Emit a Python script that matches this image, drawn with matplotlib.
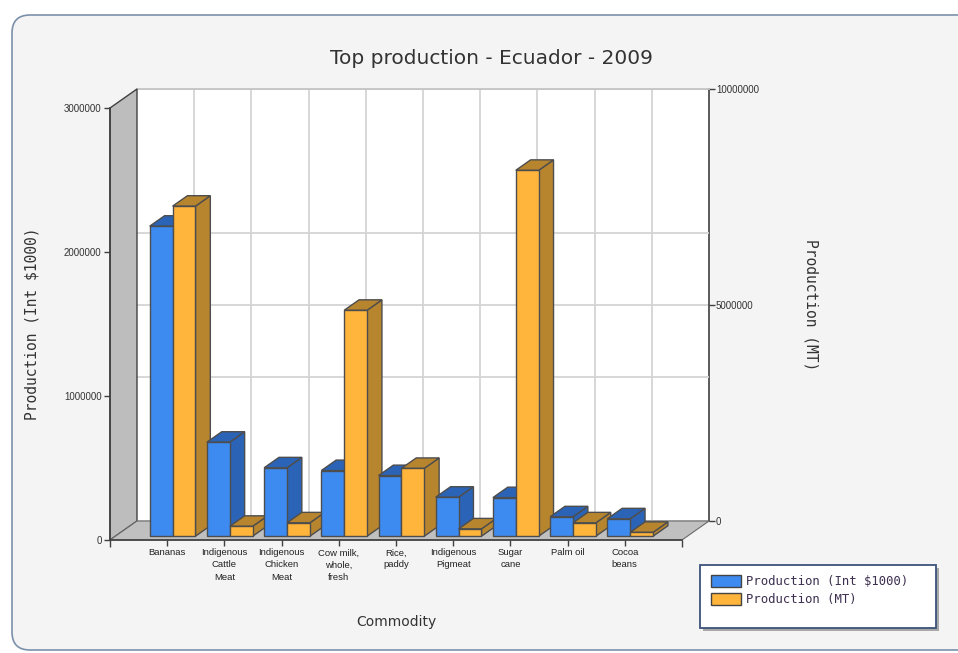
import matplotlib.pyplot as plt
from matplotlib.patches import Polygon, Rectangle, FancyBboxPatch, Patch

commodities = ["Bananas", "Indigenous\nCattle\nMeat", "Indigenous\nChicken\nMeat",
               "Cow milk,\nwhole,\nfresh", "Rice,\npaddy", "Indigenous\nPigmeat",
               "Sugar\ncane", "Palm oil", "Cocoa\nbeans"]
prod_int = [2153000, 653000, 475000, 456000, 421000, 271000, 268000, 135000, 121000]
prod_mt = [7640000, 230000, 310000, 5230000, 1570000, 170000, 8470000, 310000, 90000]

left_ticks = [0, 1000000, 2000000, 3000000]
right_ticks = [0, 5000000, 10000000]

series_names = ["Production (Int $1000)", "Production (MT)"]

plt.rcParams['font.family'] = ['Liberation Sans', 'DejaVu Sans']

W, H = 958, 653
fig = plt.figure(figsize=(W / 100, H / 100), dpi=100)
fig.patch.set_facecolor('white')


def px_rect(x, y_bottom, w, h):
    # pixel box (top-left origin) -> figure fraction
    return [x / W, 1 - y_bottom / H, w / W, h / H]


# rounded panel behind everything
bg = fig.add_axes([0, 0, 1, 1])
bg.set_xlim(0, W)
bg.set_ylim(H, 0)
bg.axis('off')
bg.add_patch(FancyBboxPatch((12, 15), 990, 635, boxstyle='round,pad=0,rounding_size=18',
                            fc='#f4f4f4', ec='#7b90ab', lw=1.2))

PLOT_X, PLOT_Y = 110, 540
PLOT_W, PLOT_H = 572, 432
DEPTH_X, DEPTH_Y = 27, 19
n_slots = len(commodities) + 1
x_pos = list(range(1, len(commodities) + 1))
dark = '#404040'

# back wall with the MT axis
back = fig.add_axes(px_rect(PLOT_X + DEPTH_X, PLOT_Y - DEPTH_Y, PLOT_W, PLOT_H))
back.set_facecolor('white')
back.set_xlim(0, n_slots)
back.set_ylim(0, right_ticks[-1])
back.set_xticks(x_pos)
back.tick_params(axis='x', length=0, labelbottom=False)
back.yaxis.tick_right()
back.set_yticks(right_ticks, [str(t) for t in right_ticks])
back.tick_params(axis='y', direction='out', length=4, width=1, color=dark, pad=1,
                 labelsize=7, labelcolor='#333333')
back.grid(True, color='#d4d4d4', lw=1.3)
back.set_axisbelow(True)
back.spines['left'].set_visible(False)
back.spines['bottom'].set_visible(False)
back.spines['top'].set_color('#c4c4c4')
back.spines['top'].set_linewidth(1.3)
back.spines['right'].set_color(dark)
back.spines['right'].set_linewidth(1.2)
back.yaxis.set_label_position('right')
back.set_ylabel(series_names[1], family='DejaVu Sans Mono', fontsize=10.5,
                color='#333333', rotation=270, va='center')
back.yaxis.set_label_coords((811 - PLOT_X - DEPTH_X) / PLOT_W, 0.5)

# left-scale gridlines on the back wall
grid_l = fig.add_axes(px_rect(PLOT_X + DEPTH_X, PLOT_Y - DEPTH_Y, PLOT_W, PLOT_H))
grid_l.set_xlim(0, n_slots)
grid_l.set_ylim(0, left_ticks[-1])
grid_l.axis('off')
for t in left_ticks[1:-1]:
    grid_l.axhline(t, color='#d4d4d4', lw=1.3)

# front plane: floor, side wall, bars and the Int $1000 axis
ax = fig.add_axes(px_rect(PLOT_X, PLOT_Y, PLOT_W, PLOT_H))
ax.patch.set_visible(False)
ax.set_xlim(0, n_slots)
ax.set_ylim(0, left_ticks[-1])

sx = n_slots / PLOT_W
sy = left_ticks[-1] / PLOT_H
dx, dy = DEPTH_X * sx, DEPTH_Y * sy
top = left_ticks[-1]

ax.add_patch(Polygon([(0, 0), (0, top), (dx, top + dy), (dx, dy)], closed=True,
                     fc='#bdbdbd', ec=dark, lw=1, clip_on=False, zorder=1))
ax.add_patch(Polygon([(0, 0), (n_slots, 0), (n_slots + dx, dy), (dx, dy)], closed=True,
                     fc='#c0c0c0', ec='#6a6a6a', lw=0.8, clip_on=False, zorder=1))

bar_w = 0.4
f0, f1 = 0.2, 0.75
ox0, oy0 = f0 * dx, f0 * dy
ox1, oy1 = f1 * dx, f1 * dy
mt_scale = left_ticks[-1] / right_ticks[-1]

colors = [('#3d8af0', '#2b64b6'), ('#ffb43c', '#b8852f')]
edge = '#4d4d4d'


def bar3d(x0, h, face, shade, z):
    x1 = x0 + bar_w
    side = Polygon([(x1 + ox0, oy0), (x1 + ox1, oy1), (x1 + ox1, oy1 + h), (x1 + ox0, oy0 + h)],
                   closed=True, fc=shade, ec=edge, lw=1, clip_on=False, zorder=z)
    lid = Polygon([(x0 + ox0, oy0 + h), (x1 + ox0, oy0 + h), (x1 + ox1, oy1 + h), (x0 + ox1, oy1 + h)],
                  closed=True, fc=shade, ec=edge, lw=1, clip_on=False, zorder=z)
    front = Rectangle((x0 + ox0, oy0), bar_w, h, fc=face, ec=edge, lw=1,
                      clip_on=False, zorder=z + 0.5)
    for p in (side, lid, front):
        ax.add_patch(p)


z = 3
for x, v_int, v_mt in zip(x_pos, prod_int, prod_mt):
    bar3d(x - bar_w, v_int, colors[0][0], colors[0][1], z)
    bar3d(x, v_mt * mt_scale, colors[1][0], colors[1][1], z + 1)
    z += 2

ax.spines['top'].set_visible(False)
ax.spines['right'].set_visible(False)
for s in ('left', 'bottom'):
    ax.spines[s].set_color(dark)
    ax.spines[s].set_linewidth(1.2)
    ax.spines[s].set_zorder(40)

ax.set_yticks(left_ticks, [str(t) for t in left_ticks])
ax.tick_params(axis='y', direction='out', length=4, width=1, color=dark, pad=2,
               labelsize=7, labelcolor='#333333')
ax.set_xticks(x_pos, commodities)
ax.set_xticks([0, n_slots], minor=True)
ax.tick_params(axis='x', which='major', direction='out', length=4, width=1, color=dark,
               pad=2, labelsize=6.8, labelcolor='#222222')
ax.tick_params(axis='x', which='minor', direction='out', length=5, width=1, color=dark)
for lbl in ax.get_xticklabels():
    lbl.set_linespacing(1.45)
    lbl.set_va('top')

ax.set_ylabel(series_names[0].replace('$', r'\$'), family='DejaVu Sans Mono',
              fontsize=10.5, color='#333333', va='center')
ax.yaxis.set_label_coords((32 - PLOT_X) / PLOT_W, 0.5)
ax.set_xlabel('Commodity', family='DejaVu Sans', fontsize=10, color='#333333', va='center')
ax.xaxis.set_label_coords((396 - PLOT_X) / PLOT_W, (PLOT_Y - 622) / PLOT_H)

fig.text(491 / W, 1 - 58 / H, 'Top production - Ecuador - 2009', family='DejaVu Sans',
         fontsize=14.5, color='#333333', ha='center', va='center')

# legend box with drop shadow
bg.add_patch(Rectangle((703, 568), 236, 63, fc='#a8a8a8', ec='none', zorder=2))
bg.add_patch(Rectangle((700, 565), 236, 63, fc='white', ec='#3b5378', lw=1.3, zorder=3))
handles = [Patch(fc=c[0], ec='#444444', lw=1) for c in colors]
fig.legend(handles, [n.replace('$', r'\$') for n in series_names], loc='center left',
           bbox_to_anchor=(711 / W, 1 - 590.5 / H), frameon=False, borderpad=0,
           borderaxespad=0, handlelength=2.45, handleheight=1.15, handletextpad=0.45,
           labelspacing=0.4, prop={'family': 'DejaVu Sans Mono', 'size': 8.8},
           labelcolor='#3d2f50')

fig.savefig('out.png', dpi=100, facecolor='white')
